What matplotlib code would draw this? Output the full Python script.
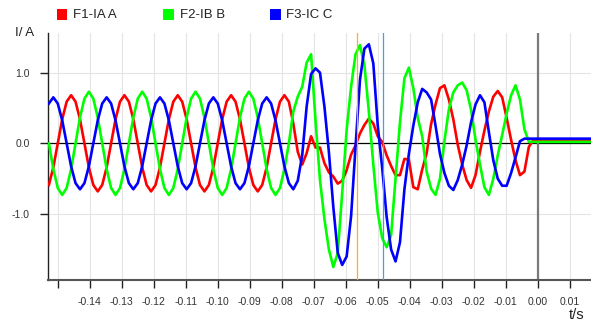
import matplotlib
matplotlib.use("Agg")
import matplotlib.pyplot as plt
from matplotlib.patches import Rectangle
import numpy as np

plt.rcParams['font.family'] = ['Liberation Sans', 'DejaVu Sans']

# Recorder samples: 1/720 s apart (12 samples per 60 Hz cycle)
t_start = -0.15276
sample_step = 1 / 720.0

# F1-IA A (red)
ia_values = [
    -0.589, -0.34, 0.0, 0.34, 0.589,
    0.68, 0.589, 0.34, 0.0, -0.34, -0.589, -0.68, -0.589, -0.34, 0.0, 0.34, 0.589,
    0.68, 0.589, 0.34, 0.0, -0.34, -0.589, -0.68, -0.589, -0.34, 0.0, 0.34, 0.589,
    0.68, 0.589, 0.34, 0.0, -0.34, -0.589, -0.68, -0.589, -0.34, 0.0, 0.34, 0.589,
    0.68, 0.589, 0.34, 0.0, -0.34, -0.589, -0.68, -0.589, -0.34, 0.0, 0.34, 0.589,
    0.68, 0.589,
    0.28, -0.12, -0.30, -0.14, 0.10, -0.06, -0.06, -0.28, -0.41, -0.47, -0.57, -0.53,
    -0.38, -0.16, -0.03, 0.14, 0.26, 0.35, 0.28, 0.10, 0.02, -0.17, -0.32, -0.45,
    -0.45, -0.22, -0.23, -0.62, -0.65, -0.37, -0.14, 0.27, 0.55, 0.78, 0.82, 0.62,
    0.34, -0.02, -0.30, -0.52, -0.63, -0.45, -0.12, 0.18, 0.45, 0.66, 0.74, 0.65,
    0.36, 0.05, -0.24, -0.45, -0.40, -0.05, 0.047, 0.047,
    0.047, 0.047, 0.047, 0.047, 0.047, 0.047, 0.047, 0.047, 0.047, 0.047, 0.047, 0.047,
]

# F2-IB B (green)
ib_values = [
    0.0, -0.365, -0.632, -0.73, -0.632, -0.365, 0.0, 0.365, 0.632,
    0.73, 0.632, 0.365, 0.0, -0.365, -0.632, -0.73, -0.632, -0.365, 0.0, 0.365, 0.632,
    0.73, 0.632, 0.365, 0.0, -0.365, -0.632, -0.73, -0.632, -0.365, 0.0, 0.365, 0.632,
    0.73, 0.632, 0.365, 0.0, -0.365, -0.632, -0.73, -0.632, -0.365, 0.0, 0.365, 0.632,
    0.73, 0.632, 0.365, 0.0, -0.365, -0.632, -0.73, -0.632, -0.365, 0.0,
    0.45, 0.66, 0.80, 1.14, 1.26, 0.32, -0.52, -1.07, -1.50, -1.75, -1.55, -0.70,
    0.19, 0.80, 1.26, 1.39, 1.10, 0.45, -0.30, -0.98, -1.34, -1.47, -1.30, -0.50,
    0.30, 0.92, 1.07, 0.78, 0.36, 0.10, -0.40, -0.64, -0.73, -0.50, 0.03, 0.48,
    0.72, 0.82, 0.86, 0.75, 0.47, 0.05, -0.30, -0.62, -0.73, -0.50, -0.17, 0.12,
    0.42, 0.68, 0.82, 0.62, 0.20, 0.02, 0.02, 0.02,
    0.02, 0.02, 0.02, 0.02, 0.02, 0.02, 0.02, 0.02, 0.02, 0.02, 0.02, 0.02,
]

# F3-IC C (blue)
ic_values = [
    0.563,
    0.65, 0.563, 0.325, 0.0, -0.325, -0.563, -0.65, -0.563, -0.325, 0.0, 0.325, 0.563,
    0.65, 0.563, 0.325, 0.0, -0.325, -0.563, -0.65, -0.563, -0.325, 0.0, 0.325, 0.563,
    0.65, 0.563, 0.325, 0.0, -0.325, -0.563, -0.65, -0.563, -0.325, 0.0, 0.325, 0.563,
    0.65, 0.563, 0.325, 0.0, -0.325, -0.563, -0.65, -0.563, -0.325, 0.0, 0.325, 0.563,
    0.65, 0.563, 0.325, 0.0, -0.325, -0.563,
    -0.65, -0.53, -0.17, 0.52, 0.98, 1.06, 1.00, 0.52, -0.12, -0.90, -1.55, -1.72,
    -1.60, -1.03, -0.05, 0.90, 1.34, 1.40, 1.13, 0.25, -0.35, -1.04, -1.50, -1.67,
    -1.40, -0.65, -0.15, 0.25, 0.58, 0.77, 0.72, 0.62, 0.25, -0.15, -0.42, -0.60,
    -0.66, -0.52, -0.30, -0.03, 0.30, 0.55, 0.68, 0.58, 0.16, -0.24, -0.50, -0.60,
    -0.60, -0.42, -0.20, 0.03, 0.066, 0.066, 0.066, 0.066,
    0.066, 0.066, 0.066, 0.066, 0.066, 0.066, 0.066, 0.066, 0.066, 0.066, 0.066, 0.066,
]

series_names = ["F1-IA A", "F2-IB B", "F3-IC C"]
series_colors = ["#ff0000", "#00ff00", "#0000ff"]

xtick_values = [-0.15, -0.14, -0.13, -0.12, -0.11, -0.10, -0.09, -0.08, -0.07,
                -0.06, -0.05, -0.04, -0.03, -0.02, -0.01, 0.00, 0.01]
xtick_labels = [""] + ["%.2f" % v for v in xtick_values[1:]]
ytick_values = [-1.0, 0.0, 1.0]
ytick_labels = ["-1.0", "0.0", "1.0"]

cursor_1 = -0.0566   # orange cursor
cursor_2 = -0.0482   # light blue cursor

W, H = 591, 323
fig = plt.figure(figsize=(W / 100, H / 100), dpi=100)
ax = fig.add_axes([48.3 / W, 43 / H, (W - 48.3) / W, (280 - 33.3) / H])

t = t_start + sample_step * np.arange(len(ia_values))

ax.set_xlim(-0.15294, 0.01666)
ax.set_ylim(-1.933, 1.556)

for xv in xtick_values:
    ax.axvline(xv, color="#e4e4e4", lw=0.8, zorder=0)
for yv in (-1.0, 1.0):
    ax.axhline(yv, color="#e4e4e4", lw=0.8, zorder=0)
ax.axhline(0.0, color="black", lw=0.9, zorder=1)
ax.axvline(0.0, color="#7a7a7a", lw=1.6, zorder=1)

for vals, name, col in zip([ia_values, ib_values, ic_values], series_names, series_colors):
    ax.plot(t, vals, color=col, lw=1.9, label=name, zorder=3,
            solid_joinstyle="round")

ax.axvline(cursor_1, color="#ffb400", lw=0.9, zorder=5)
ax.axvline(cursor_2, color="#3aa6e0", lw=0.9, zorder=5)

ax.set_xticks(xtick_values)
ax.set_xticklabels(xtick_labels)
ax.set_yticks(ytick_values)
ax.set_yticklabels(ytick_labels)
ax.tick_params(axis="x", length=5.5, width=1.0, pad=6.5, labelsize=7.5,
               labelcolor="#333333", color="#222222")
ax.tick_params(axis="y", length=5.5, width=1.0, pad=8, labelsize=7.5,
               labelcolor="#333333", color="#222222")

for side in ("top", "right"):
    ax.spines[side].set_visible(False)
ax.spines["left"].set_color("#222222")
ax.spines["left"].set_linewidth(1.0)
ax.spines["bottom"].set_color("#555555")
ax.spines["bottom"].set_linewidth(1.5)

# axis captions
fig.text(15 / W, 1 - 33 / H, "I/ A", ha="left", va="center", fontsize=9.5,
         color="#222222")
fig.text(584 / W, 1 - 315 / H, "t/s", ha="right", va="center", fontsize=10.5,
         color="#222222")

# legend row at the top
legend_x = [56.5, 163.0, 270.0]
for lx, name, col in zip(legend_x, series_names, series_colors):
    fig.add_artist(Rectangle((lx / W, 1 - 19.5 / H), 10.5 / W, 10 / H,
                             transform=fig.transFigure, color=col, lw=0))
    fig.text((lx + 16.5) / W, 1 - 14.5 / H, name, ha="left", va="center",
             fontsize=9.5, color="#222222")

fig.savefig("out.png", dpi=100)
